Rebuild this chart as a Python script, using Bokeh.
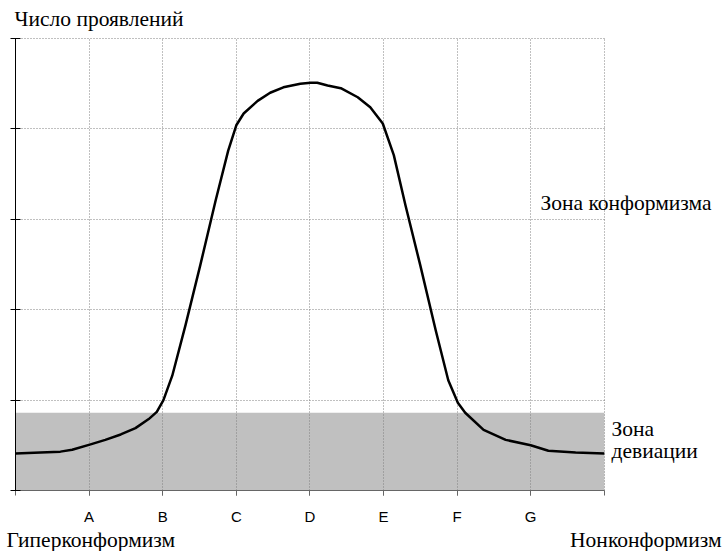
from bokeh.plotting import figure
from bokeh.models import Range1d, FixedTicker, Label, LinearAxis, Grid
from bokeh.embed import file_html
from bokeh.resources import INLINE

# Data
categories = ["A", "B", "C", "D", "E", "F", "G"]
cat_pos = [1, 2, 3, 4, 5, 6, 7]
x_edges = [0, 8]
curve_x = [0.00, 0.34, 0.61, 0.77, 1.02, 1.22, 1.43, 1.63, 1.81, 1.92, 2.01, 2.13, 2.31,
           2.51, 2.72, 2.89, 3.00, 3.10, 3.29, 3.46, 3.64, 3.87, 4.01, 4.10, 4.24, 4.42,
           4.65, 4.82, 4.99, 5.14, 5.30, 5.50, 5.71, 5.88, 6.01, 6.11, 6.36, 6.66, 7.00,
           7.24, 7.61, 8.00]
curve_y = [0.41, 0.42, 0.43, 0.45, 0.51, 0.56, 0.62, 0.69, 0.79, 0.87, 1.00, 1.27, 1.83,
           2.49, 3.21, 3.76, 4.04, 4.17, 4.31, 4.40, 4.46, 4.50, 4.51, 4.51, 4.48, 4.45,
           4.35, 4.24, 4.06, 3.71, 3.15, 2.49, 1.77, 1.22, 0.97, 0.86, 0.67, 0.56, 0.50,
           0.44, 0.42, 0.41]
deviation_top = 0.86
y_ticks = [0, 1, 2, 3, 4, 5]

SERIF = "'Liberation Serif', 'Times New Roman', serif"
GRID_COLOR = "#808080"
PX = 73.6   # pixels per x unit
PY = 90.4   # pixels per y unit

p = figure(width=723, height=551, output_backend="svg", toolbar_location=None,
           x_range=Range1d(-15 / PX, 708 / PX), y_range=Range1d(-61 / PY, 490 / PY),
           x_axis_location=None, y_axis_location=None,
           min_border_left=0, min_border_right=0, min_border_top=0, min_border_bottom=0)
p.outline_line_color = None
p.center = []

# deviation band (below grid)
p.quad(left=[x_edges[0]], right=[x_edges[1]], bottom=[0], top=[deviation_top],
       fill_color="#c0c0c0", line_color=None, level="image")

# grids
has_cross = "cross_bounds" in Grid.properties()
xg = Grid(dimension=0, ticker=FixedTicker(ticks=cat_pos + [x_edges[1]]),
          grid_line_color=GRID_COLOR, grid_line_dash="1 2", grid_line_width=1)
yg = Grid(dimension=1, ticker=FixedTicker(ticks=y_ticks[1:]),
          grid_line_color=GRID_COLOR, grid_line_dash="1 2", grid_line_width=1)
if has_cross:
    xg.cross_bounds = (0, y_ticks[-1])
    yg.cross_bounds = (x_edges[0], x_edges[1])
    p.add_layout(xg)
    p.add_layout(yg)
else:
    gx = cat_pos + [x_edges[1]]
    p.segment(x0=gx, x1=gx, y0=[0] * len(gx), y1=[y_ticks[-1]] * len(gx),
              line_color=GRID_COLOR, line_dash="1 2", line_width=1, level="underlay")
    gy = y_ticks[1:]
    p.segment(x0=[x_edges[0]] * len(gy), x1=[x_edges[1]] * len(gy), y0=gy, y1=gy,
              line_color=GRID_COLOR, line_dash="1 2", line_width=1, level="underlay")

# axes (fixed inside the full-canvas frame)
xa = LinearAxis(fixed_location=0, bounds=(x_edges[0], x_edges[1]),
                ticker=FixedTicker(ticks=cat_pos, minor_ticks=x_edges + cat_pos))
xa.major_label_overrides = {pos: c for pos, c in zip(cat_pos, categories)}
xa.axis_line_color = "#666666"
xa.major_tick_line_color = "#666666"
xa.minor_tick_line_color = "#666666"
xa.major_tick_in = 0
xa.major_tick_out = 5
xa.minor_tick_in = 0
xa.minor_tick_out = 5
xa.major_label_standoff = 12
xa.major_label_text_font = "Liberation Sans"
xa.major_label_text_font_size = "15px"
xa.major_label_text_color = "black"
p.add_layout(xa, "below")

ya = LinearAxis(fixed_location=0, bounds=(0, y_ticks[-1]),
                ticker=FixedTicker(ticks=[], minor_ticks=y_ticks))
ya.axis_line_color = "black"
ya.minor_tick_line_color = "black"
ya.minor_tick_in = 5
ya.minor_tick_out = 5
ya.major_tick_line_color = None
p.add_layout(ya, "left")

# curve
p.line(curve_x, curve_y, line_color="black", line_width=2.5, line_join="round")

# texts (page pixel positions converted to data units)
def lab(px, py, t, align="left"):
    p.add_layout(Label(x=(px - 15) / PX, y=(490 - py) / PY, text=t, text_font=SERIF,
                       text_font_size="21.5px", text_color="black", text_align=align,
                       text_baseline="alphabetic"))

SHIFT = 7
lab(14, 25 - SHIFT, "Число проявлений")
lab(6, 546 - SHIFT, "Гиперконформизм")
lab(721, 546 - SHIFT, "Нонконформизм", align="right")
lab(540, 209 - SHIFT, "Зона конформизма")
lab(611, 435 - SHIFT, "Зона")
lab(611, 457 - SHIFT, "девиации")

open("out.html", "w").write(file_html(p, INLINE))
